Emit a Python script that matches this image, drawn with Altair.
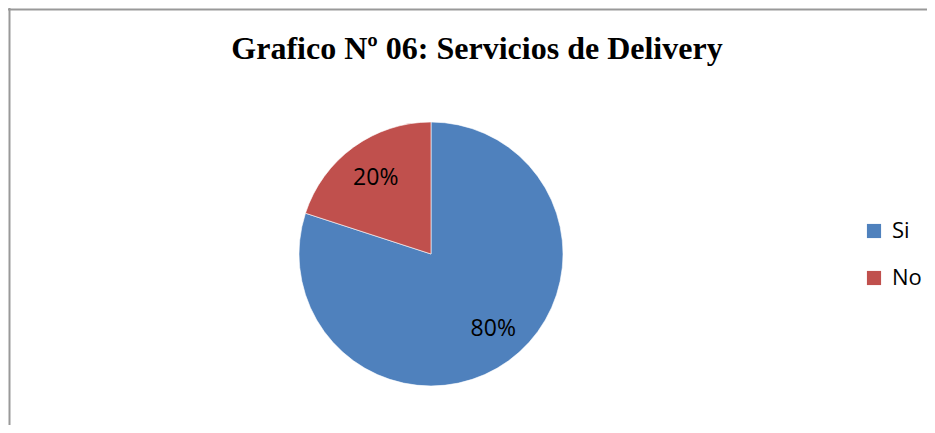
import altair as alt
import pandas as pd

TITLE = "Grafico Nº 06: Servicios de Delivery"
categories = ["Si", "No"]
values = [80, 20]
labels = ["80%", "20%"]
colors = ["#4F81BD", "#C0504D"]

W, H = 919, 417
CX, CY = 423, 246

df = pd.DataFrame({"cat": categories, "val": values, "lbl": labels, "ord": [0, 1]})

base = alt.Chart(df)

arc = base.mark_arc(radius=132, stroke="white", strokeWidth=0.6).encode(
    theta=alt.Theta("val:Q", stack=True),
    color=alt.Color(
        "cat:N",
        scale=alt.Scale(domain=categories, range=colors),
        sort=categories,
        legend=alt.Legend(
            title=None,
            orient="none",
            legendX=855,
            legendY=212,
            symbolType="square",
            symbolSize=200,
            symbolStrokeWidth=0,
            labelFont="Open Sans",
            labelFontSize=22,
            labelColor="#000000",
            labelOffset=7,
            rowPadding=25,
            padding=0,
        ),
    ),
    order=alt.Order("ord:Q"),
    x=alt.value(CX),
    y=alt.value(CY),
)

def label_layer(cat, dx, dy):
    return base.mark_text(
        radius=94, font="Open Sans", fontSize=23, color="#000000", dx=dx, dy=dy
    ).encode(
        theta=alt.Theta("val:Q", stack=True),
        order=alt.Order("ord:Q"),
        text="lbl:N",
        opacity=alt.condition(alt.datum.cat == cat, alt.value(1), alt.value(0)),
        x=alt.value(CX),
        y=alt.value(CY),
    )

text_si = label_layer("Si", 7, -1)
text_no = label_layer("No", 0, 0)

title = alt.Chart(pd.DataFrame({"t": [TITLE]})).mark_text(
    font="Liberation Serif", fontSize=32, fontWeight="bold", color="#000000",
    align="center", baseline="alphabetic",
).encode(text="t:N", x=alt.value(469), y=alt.value(51))

one = pd.DataFrame({"k": [0]})
left_rule = alt.Chart(one).mark_rule(color="#999999", strokeWidth=2).encode(
    x=alt.value(1.5), y=alt.value(0), y2=alt.value(H)
)
top_rule = alt.Chart(one).mark_rule(color="#999999", strokeWidth=2).encode(
    y=alt.value(1.5), x=alt.value(0), x2=alt.value(W)
)

chart = alt.layer(arc, text_si, text_no, title, left_rule, top_rule).properties(
    width=W, height=H, autosize="none", padding=0, background="white"
).configure_view(stroke=None)

chart.save("out.html", embed_options={"renderer": "svg", "actions": False})
